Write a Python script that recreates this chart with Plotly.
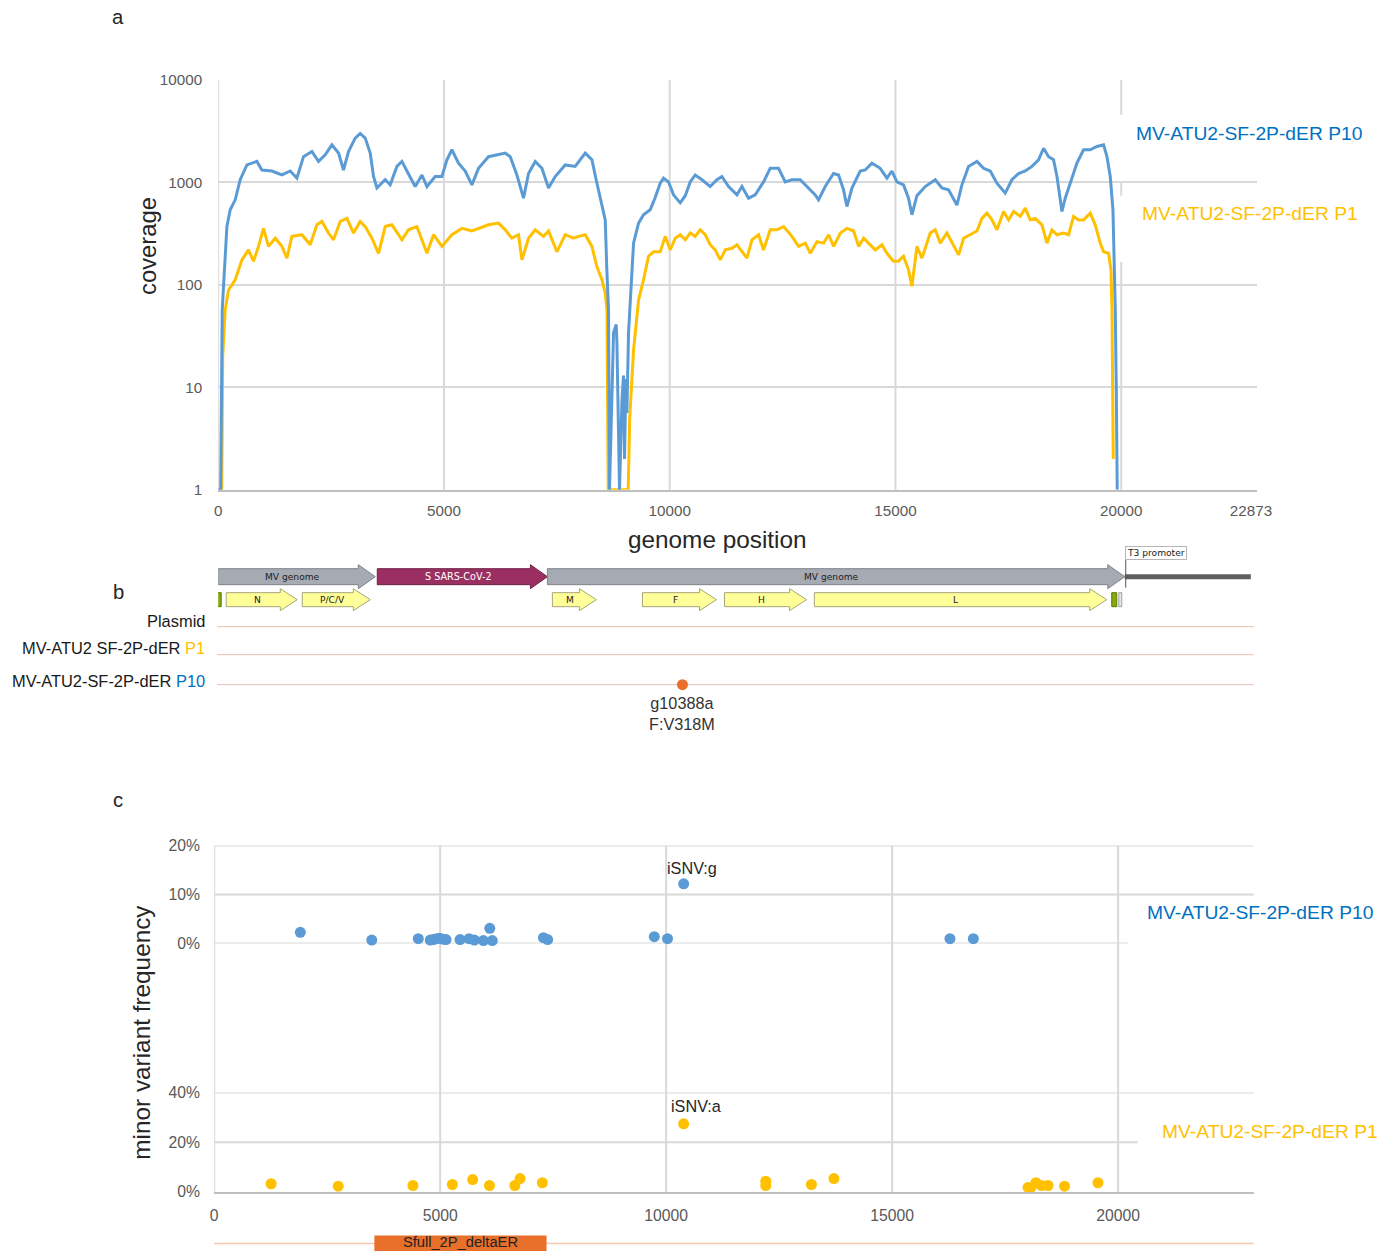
import plotly.graph_objects as go

# The page capture renders the figure at a slight scale with a fixed offset;
# reference pixel positions are mapped into figure pixels accordingly.
S, BX, BY = 0.986, 11.9, 17.1
W = round((1395 - BX) / S)
H = round((1252 - BY) / S)
FONT = "Liberation Sans, Arial, sans-serif"
MAPFONT = "DejaVu Sans, Verdana, sans-serif"


def fx(p):
    return ((p - BX) / S) / W


def fy(p):
    return min(1.0, max(0.0, 1 - ((p - BY) / S) / H))


def fs(size):
    return size / S


# ---------------- panel a : coverage ----------------
p10_cov_pos = [0, 55, 89, 193, 266, 377, 487, 636, 857, 968,
               1189, 1411, 1595, 1743, 1889, 2075, 2222, 2370, 2518, 2665,
               2775, 2886, 3034, 3145, 3256, 3367, 3440, 3515, 3699, 3810,
               3958, 4069, 4180, 4363, 4512, 4623, 4806, 4955, 5066, 5176,
               5322, 5471, 5619, 5765, 5987, 6173, 6357, 6468, 6616, 6762,
               6873, 7021, 7170, 7316, 7464, 7686, 7907, 8129, 8277, 8388,
               8499, 8572, 8605, 8645, 8667, 8756, 8815, 8831, 8888, 8942,
               8977, 8999, 9030, 9052, 9088, 9126, 9199, 9310, 9420, 9568,
               9679, 9790, 9863, 9974, 10085, 10233, 10344, 10454, 10565, 10714,
               10897, 11046, 11156, 11303, 11489, 11600, 11746, 11894, 12078, 12226,
               12410, 12559, 12707, 12891, 13039, 13223, 13296, 13444, 13628, 13739,
               13850, 13925, 14036, 14219, 14330, 14479, 14662, 14811, 14921, 15032,
               15178, 15289, 15364, 15475, 15659, 15881, 16029, 16175, 16361, 16472,
               16618, 16805, 16951, 17099, 17247, 17431, 17580, 17726, 17874, 18023,
               18169, 18280, 18391, 18501, 18577, 18650, 18687, 18760, 18909, 19019,
               19166, 19314, 19462, 19609, 19684, 19757, 19817, 19846, 19868, 19890,
               19912]
p10_cov = [1, 1, 57, 370, 540, 675, 1060, 1480, 1600, 1320,
           1290, 1180, 1290, 1100, 1780, 2000, 1600, 1855, 2320, 1930,
           1320, 2000, 2700, 3000, 2700, 1930, 1140, 880, 1060, 945,
           1430, 1600, 1290, 910, 1180, 910, 1140, 1140, 1660, 2080,
           1540, 1290, 945, 1370, 1780, 1855, 1930, 1780, 1180, 700,
           1220, 1600, 1370, 880, 1140, 1480, 1430, 1930, 1660, 980,
           600, 430, 150, 57, 1, 34, 41, 27, 1, 7.5,
           13, 2, 12, 5.6, 34, 71, 255, 400, 482, 540,
           710, 980, 1100, 1010, 755, 630, 740, 1010, 1180, 1060,
           910, 1060, 1140, 910, 755, 910, 700, 755, 1010, 1370,
           1370, 1010, 1060, 1060, 910, 755, 675, 910, 1220, 1180,
           845, 580, 880, 1290, 1320, 1540, 1370, 1100, 1290, 1010,
           945, 700, 482, 740, 910, 1060, 880, 845, 600, 945,
           1430, 1600, 1370, 1290, 980, 785, 1060, 1220, 1290, 1430,
           1660, 2150, 1780, 1660, 1140, 675, 520, 700, 1100, 1540,
           2080, 2080, 2240, 2320, 1780, 1140, 540, 175, 57, 10,
           1]

p1_cov_pos = [78, 100, 155, 228, 377, 525, 671, 782, 893, 1003,
              1114, 1263, 1411, 1522, 1632, 1854, 2038, 2186, 2297, 2443,
              2554, 2702, 2851, 2997, 3145, 3256, 3404, 3551, 3699, 3847,
              4069, 4215, 4401, 4623, 4769, 4955, 5176, 5398, 5619, 5765,
              5987, 6208, 6357, 6505, 6651, 6727, 6873, 7021, 7205, 7316,
              7502, 7686, 7870, 7980, 8129, 8277, 8388, 8499, 8572, 8610,
              8627, 8638, 9081, 9114, 9199, 9310, 9420, 9531, 9642, 9790,
              9901, 10011, 10122, 10233, 10344, 10454, 10565, 10676, 10787, 10897,
              11008, 11119, 11230, 11378, 11489, 11600, 11711, 11821, 11968, 12078,
              12226, 12375, 12522, 12707, 12854, 13003, 13114, 13261, 13409, 13520,
              13631, 13779, 13925, 14073, 14184, 14295, 14405, 14552, 14700, 14811,
              14957, 15068, 15178, 15289, 15364, 15475, 15586, 15770, 15881, 15992,
              16140, 16287, 16398, 16509, 16656, 16805, 16915, 17026, 17137, 17247,
              17394, 17505, 17616, 17764, 17874, 17985, 18096, 18244, 18355, 18466,
              18577, 18723, 18834, 18945, 19056, 19166, 19314, 19424, 19535, 19609,
              19720, 19773, 19795, 19812, 19823]
p1_cov = [1, 20, 57, 89, 112, 175, 219, 170, 237, 355,
          237, 285, 237, 182, 297, 308, 246, 385, 415, 320,
          275, 415, 445, 320, 415, 370, 285, 203, 370, 385,
          275, 344, 370, 203, 308, 237, 308, 355, 335, 355,
          385, 400, 344, 285, 308, 175, 285, 344, 297, 335,
          210, 308, 285, 297, 308, 237, 150, 112, 83, 57,
          10, 1, 1, 5, 23, 71, 112, 190, 210, 210,
          297, 219, 285, 308, 275, 320, 297, 344, 308, 246,
          219, 175, 219, 227, 246, 210, 182, 275, 308, 219,
          344, 344, 370, 297, 237, 255, 203, 264, 255, 308,
          237, 320, 355, 335, 237, 285, 255, 219, 246, 203,
          170, 170, 190, 140, 97, 237, 182, 320, 344, 255,
          320, 237, 196, 285, 308, 335, 445, 500, 430, 344,
          520, 430, 520, 465, 560, 430, 445, 385, 255, 344,
          308, 320, 308, 465, 430, 430, 500, 385, 255, 210,
          203, 140, 57, 10, 2]

a_xticks = [0, 5000, 10000, 15000, 20000, 22873]
a_yticks = [1, 10, 100, 1000, 10000]
a_xgrid = [0, 5000, 10000, 15000]

# ---------------- panel b : genome map ----------------
map_names = ["MV genome", "S SARS-CoV-2", "MV genome"]
map_starts = [0, 3560, 7366]
map_ends = [3515, 7366, 20285]
map_fill = ["#A6AAB2", "#9B2F62", "#A6AAB2"]
map_edge = ["#7E828A", "#6E1F45", "#7E828A"]
map_text = ["#222222", "#FFFFFF", "#222222"]

gene_names = ["N", "P/C/V", "M", "F", "H", "L"]
gene_starts = [179, 1881, 7478, 9493, 11329, 13340]
gene_ends = [1769, 3403, 8463, 11150, 13165, 19882]

backbone_start, backbone_end = 20285, 23106
t3_pos = 20307
mut_pos = [10388]
mut_label = "g10388a<br>F:V318M"

# ---------------- panel c : minor variants ----------------
p10_pos = [1905, 3487, 4516, 4780, 4850, 4920, 4990, 5060, 5130, 5440, 5639,
           5757, 5956, 6098, 6153, 7285, 7378, 9737, 10030, 10388, 16280, 16797]
p10_freq = [0.023, 0.007, 0.010, 0.007, 0.008, 0.010, 0.011, 0.009, 0.008, 0.008, 0.010,
            0.007, 0.006, 0.031, 0.006, 0.012, 0.008, 0.014, 0.010, 0.122, 0.010, 0.010]
p1_pos = [1260, 2744, 4397, 5270, 5719, 6091, 6652, 6769, 7261, 10388, 12205,
          12205, 13215, 13713, 18008, 18066, 18181, 18305, 18449, 18815, 19554]
p1_freq = [0.033, 0.023, 0.026, 0.030, 0.050, 0.026, 0.026, 0.054, 0.037, 0.274, 0.043,
           0.026, 0.030, 0.054, 0.018, 0.017, 0.037, 0.026, 0.026, 0.023, 0.037]
c_xticks = [0, 5000, 10000, 15000, 20000]
insert_label = ["Sfull_2P_deltaER"]
insert_start, insert_end = 3544, 7354

BLUE_LINE = "#5B9BD5"
GOLD = "#FFC000"
BLUE_TXT = "#0070C0"
GRID = "#D9D9D9"
AXIS = "#BFBFBF"
TICK = "#595959"

# y-range of the map panel expressed in reference pixel rows (layout only)
MAP_TOP, MAP_BOT = 540, 740

fig = go.Figure()

# panel a traces
fig.add_trace(go.Scatter(x=p1_cov_pos, y=p1_cov, mode="lines",
                         line=dict(color=GOLD, width=3), xaxis="x", yaxis="y",
                         hoverinfo="skip"))
fig.add_trace(go.Scatter(x=p10_cov_pos, y=p10_cov, mode="lines",
                         line=dict(color=BLUE_LINE, width=3), xaxis="x", yaxis="y",
                         hoverinfo="skip"))

# panel b mutation dot
fig.add_trace(go.Scatter(x=mut_pos, y=[685], mode="markers",
                         marker=dict(size=11, color="#E8702A"),
                         xaxis="x5", yaxis="y5", cliponaxis=False, hoverinfo="skip"))

# panel c traces
fig.add_trace(go.Scatter(x=p10_pos, y=p10_freq, mode="markers",
                         marker=dict(size=11, color=BLUE_LINE),
                         xaxis="x3", yaxis="y3", cliponaxis=False, hoverinfo="skip"))
fig.add_trace(go.Scatter(x=p1_pos, y=p1_freq, mode="markers",
                         marker=dict(size=11, color=GOLD),
                         xaxis="x3", yaxis="y4", cliponaxis=False, hoverinfo="skip"))
# insert label (bottom track)
fig.add_trace(go.Scatter(x=[(insert_start + insert_end) / 2], y=[0.5], mode="text",
                         text=insert_label, textposition="middle center",
                         textfont=dict(family=FONT, size=fs(14.5), color="#222222"),
                         xaxis="x3", yaxis="y6", cliponaxis=False, hoverinfo="skip"))

shapes = []
annotations = []

# ---- panel a gridlines ----
for g in a_xgrid:
    shapes.append(dict(type="line", xref="x", yref="paper", x0=g, x1=g,
                       y0=fy(490), y1=fy(80), line=dict(color=GRID, width=2), layer="below"))
for (a, b) in [(80, 115), (182, 196), (262, 490)]:
    shapes.append(dict(type="line", xref="x", yref="paper", x0=20000, x1=20000,
                       y0=fy(b), y1=fy(a), line=dict(color=GRID, width=2), layer="below"))


# ---- panel b arrows ----
def arrow_path(x0, x1, yt, yb, ht, hb, head):
    xh = max(x0, x1 - head)
    ym = (yt + yb) / 2
    return (f"M {x0},{yt} L {xh},{yt} L {xh},{ht} L {x1},{ym} "
            f"L {xh},{hb} L {xh},{yb} L {x0},{yb} Z")


HEAD = 380
for n, s, e, fc, ec, tc in zip(map_names, map_starts, map_ends, map_fill, map_edge, map_text):
    shapes.append(dict(type="path", xref="x5", yref="y5",
                       path=arrow_path(s, e, 569, 585, 565, 589, HEAD),
                       fillcolor=fc, line=dict(color=ec, width=1)))
    annotations.append(dict(x=(s + e) / 2 - HEAD / 4, y=577, xref="x5", yref="y5",
                            text=n, showarrow=False,
                            font=dict(family=MAPFONT, size=fs(9.5 if tc == "#FFFFFF" else 9),
                                      color=tc)))
for n, s, e in zip(gene_names, gene_starts, gene_ends):
    shapes.append(dict(type="path", xref="x5", yref="y5",
                       path=arrow_path(s, e, 593, 607, 589, 611, HEAD),
                       fillcolor="#FFFF99", line=dict(color="#A6A67A", width=1)))
    annotations.append(dict(x=(s + e) / 2 - HEAD / 4, y=600, xref="x5", yref="y5",
                            text=n, showarrow=False,
                            font=dict(family=MAPFONT, size=fs(9), color="#222222")))

shapes.append(dict(type="line", xref="x5", yref="y5", x0=backbone_start, x1=backbone_end,
                   y0=577, y1=577, line=dict(color="#5F5F5F", width=5)))
shapes.append(dict(type="line", xref="x5", yref="y5", x0=t3_pos, x1=t3_pos,
                   y0=556, y1=588, line=dict(color="#555555", width=1)))
annotations.append(dict(x=20980, y=553, xref="x5", yref="y5", text="T3 promoter",
                        showarrow=False, bgcolor="white", bordercolor="#B5B5B5",
                        borderwidth=1, borderpad=1,
                        font=dict(family=MAPFONT, size=fs(9), color="#222222")))
# small marker boxes
shapes.append(dict(type="rect", xref="x5", yref="y5", x0=-22, x1=67, y0=593, y1=607,
                   fillcolor="#84A80E", line=dict(color="#5E7A00", width=1)))
shapes.append(dict(type="rect", xref="x5", yref="y5", x0=19994, x1=20106, y0=593, y1=607,
                   fillcolor="#84A80E", line=dict(color="#5E7A00", width=1)))
shapes.append(dict(type="rect", xref="x5", yref="y5", x0=20151, x1=20218, y0=593, y1=607,
                   fillcolor="#E6E6E6", line=dict(color="#A0A0A0", width=1)))

# row lines
for yy in [627, 655, 685]:
    shapes.append(dict(type="line", xref="paper", yref="paper", x0=fx(217), x1=fx(1253),
                       y0=fy(yy), y1=fy(yy), line=dict(color="#E3C2AE", width=1), layer="below"))

row_labels = ["Plasmid",
              f"MV-ATU2 SF-2P-dER <span style='color:{GOLD}'>P1</span>",
              f"MV-ATU2-SF-2P-dER <span style='color:{BLUE_TXT}'>P10</span>"]
for lab, yy in zip(row_labels, [621, 648, 681]):
    annotations.append(dict(x=fx(206), y=fy(yy), xref="paper", yref="paper", text=lab,
                            xanchor="right", yanchor="middle", showarrow=False, borderpad=0,
                            font=dict(family=FONT, size=fs(16.2), color="#1A1A1A")))
annotations.append(dict(x=mut_pos[0], y=714, xref="x5", yref="y5", text=mut_label,
                        showarrow=False, xanchor="center", yanchor="middle",
                        font=dict(family=FONT, size=fs(16), color="#333333")))

# ---- panel c gridlines ----
for g in c_xticks:
    shapes.append(dict(type="line", xref="x3", yref="paper", x0=g, x1=g,
                       y0=fy(1192.5), y1=fy(846), line=dict(color=GRID, width=2), layer="below"))
for val, xend in [(0.2, 1253), (0.1, 1253), (0.0, 1127)]:
    shapes.append(dict(type="line", xref="paper", yref="y3", x0=fx(214), x1=fx(xend),
                       y0=val, y1=val, line=dict(color=GRID, width=2), layer="below"))
for val, xend in [(0.4, 1253), (0.2, 1137)]:
    shapes.append(dict(type="line", xref="paper", yref="y4", x0=fx(214), x1=fx(xend),
                       y0=val, y1=val, line=dict(color=GRID, width=2), layer="below"))

# bottom insert track
shapes.append(dict(type="line", xref="paper", yref="paper", x0=fx(214), x1=fx(1253),
                   y0=fy(1244), y1=fy(1244), line=dict(color="#F6C9AE", width=1.5), layer="below"))
shapes.append(dict(type="rect", xref="x3", yref="paper", x0=insert_start, x1=insert_end,
                   y0=0, y1=fy(1236), fillcolor="#E8702A", line=dict(width=0), layer="below"))


# ---- text annotations (paper) ----
def ptext(x, y, text, size, color="#262626", xanchor="center", angle=0):
    annotations.append(dict(x=fx(x), y=fy(y), xref="paper", yref="paper", text=text,
                            showarrow=False, xanchor=xanchor, yanchor="middle", borderpad=0,
                            textangle=angle, font=dict(family=FONT, size=fs(size), color=color)))


ptext(118, 17, "a", 20)
ptext(118, 592, "b", 20)
ptext(118, 800, "c", 20)
ptext(148, 246, "coverage", 23.5, angle=-90)
ptext(717, 540, "genome position", 24)
ptext(1134, 134, "MV-ATU2-SF-2P-dER P10", 19, BLUE_TXT, "left")
ptext(1140, 214, "MV-ATU2-SF-2P-dER P1", 19, GOLD, "left")
ptext(141, 1033, "minor variant frequency", 24, angle=-90)
ptext(1145, 913, "MV-ATU2-SF-2P-dER P10", 19, BLUE_TXT, "left")
ptext(1160, 1132, "MV-ATU2-SF-2P-dER P1", 19, GOLD, "left")
ptext(666, 868, "iSNV:g", 16, "#262626", "left")
ptext(670, 1107, "iSNV:a", 16, "#262626", "left")

tickfont_a = dict(family=FONT, size=fs(15), color=TICK)
tickfont_c = dict(family=FONT, size=fs(15.5), color=TICK)
transparent = "rgba(0,0,0,0)"

fig.update_layout(
    width=W, height=H, margin=dict(l=0, r=0, t=0, b=0),
    paper_bgcolor="white", plot_bgcolor="rgba(0,0,0,0)", showlegend=False,
    font=dict(family=FONT),
    xaxis=dict(domain=[fx(218), fx(1256)], range=[0, 23000], anchor="y",
               tickvals=a_xticks, ticktext=[str(v) for v in a_xticks],
               showgrid=False, zeroline=False, showline=True, linecolor=AXIS, linewidth=2,
               ticks="outside", ticklen=6, tickcolor=transparent, tickfont=tickfont_a),
    yaxis=dict(domain=[fy(490), fy(80)], type="log", range=[0, 4], anchor="x",
               tickvals=a_yticks, ticktext=[str(v) for v in a_yticks],
               showgrid=True, gridcolor=GRID, gridwidth=2, zeroline=False, showline=False,
               ticks="outside", ticklen=12, tickcolor=transparent, tickfont=tickfont_a),
    xaxis5=dict(domain=[fx(218), fx(1256)], range=[0, 23237], anchor="y5", visible=False),
    yaxis5=dict(domain=[fy(MAP_BOT), fy(MAP_TOP)], range=[MAP_BOT, MAP_TOP], anchor="x5",
                visible=False),
    xaxis3=dict(domain=[fx(214), fx(1253)], range=[0, 23000], anchor="y4",
                tickvals=c_xticks, ticktext=[str(v) for v in c_xticks],
                showgrid=False, zeroline=False, showline=True, linecolor=AXIS, linewidth=2,
                ticks="outside", ticklen=8, tickcolor=transparent, tickfont=tickfont_c),
    yaxis3=dict(domain=[fy(944), fy(846)], range=[0, 0.2], anchor="x3",
                tickvals=[0, 0.1, 0.2], ticktext=["0%", "10%", "20%"],
                showgrid=False, zeroline=False, showline=False,
                ticks="outside", ticklen=10, tickcolor=transparent, tickfont=tickfont_c),
    yaxis4=dict(domain=[fy(1192.5), fy(1093)], range=[0, 0.4], anchor="x3",
                tickvals=[0, 0.2, 0.4], ticktext=["0%", "20%", "40%"],
                showgrid=False, zeroline=False, showline=False,
                ticks="outside", ticklen=10, tickcolor=transparent, tickfont=tickfont_c),
    yaxis6=dict(domain=[fy(1254), fy(1236)], range=[0, 1], anchor="x3", visible=False),
    shapes=shapes, annotations=annotations,
)

fig.write_html("out.html")
